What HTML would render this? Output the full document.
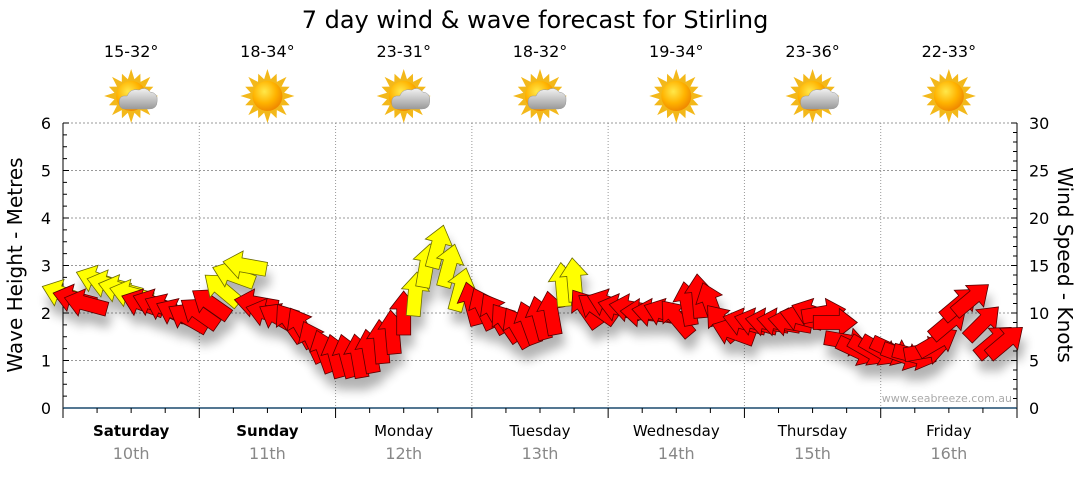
<!DOCTYPE html>
<html><head><meta charset="utf-8"><style>
body{margin:0;background:#fff;width:1080px;height:475px;overflow:hidden;font-family:"DejaVu Sans","Liberation Sans",sans-serif}
svg text{font-family:"DejaVu Sans","Liberation Sans",sans-serif}
</style></head><body>
<svg id="chart" width="1080" height="475" xmlns="http://www.w3.org/2000/svg">
<defs>
<filter id="sh" x="-50%" y="-50%" width="200%" height="200%"><feGaussianBlur in="SourceAlpha" stdDeviation="5"/><feOffset dx="3" dy="12"/><feComponentTransfer><feFuncA type="linear" slope="0.3"/></feComponentTransfer><feMerge><feMergeNode/><feMergeNode in="SourceGraphic"/></feMerge></filter>
<radialGradient id="sun" cx="40%" cy="35%" r="65%"><stop offset="0" stop-color="#ffe84a"/><stop offset="0.6" stop-color="#ffb300"/><stop offset="1" stop-color="#f08a00"/></radialGradient>
<linearGradient id="cloud" x1="0" y1="0" x2="0" y2="1"><stop offset="0" stop-color="#f2f2f2"/><stop offset="1" stop-color="#9a9a9a"/></linearGradient>
</defs>
<text x="535" y="28" font-size="24" text-anchor="middle" fill="#000">7 day wind &amp; wave forecast for Stirling</text>
<g id="grid"></g><g id="axes"></g><g id="marks" filter="url(#sh)"></g><g id="top"></g>
<text transform="translate(22,265) rotate(-90)" font-size="20" text-anchor="middle">Wave Height - Metres</text>
<text transform="translate(1058,265) rotate(90)" font-size="20" text-anchor="middle">Wind Speed - Knots</text>
<text x="1012" y="402" font-size="11" text-anchor="end" fill="#aaa">www.seabreeze.com.au</text>
</svg>
<script>
const days=["Saturday","Sunday","Monday","Tuesday","Wednesday","Thursday","Friday"];
const dates=["10th","11th","12th","13th","14th","15th","16th"];
const temps=["15-32°","18-34°","23-31°","18-32°","19-34°","23-36°","22-33°"];
const cloudy=[1,0,1,1,0,1,0];
const leftTicks=[0,1,2,3,4,5,6];
const rightTicks=[0,5,10,15,20,25,30];
// wind speed (knots), 2-hourly
const windSpeed=[12,11.5,11,13.5,13,12.5,12,11,11,10.5,10,9.5,
 10,11,12.5,14,15,11,10,9.5,9,8.5,7,6,
 5.5,5.5,5.5,6,7,8,10,12,15,17,15,12.5,
 11,10.5,10,9,8.5,9,9.5,10,13,13.5,10.5,10.5,
 11,10.5,10.5,10,10,10,9.5,11,11.8,11,9,8,
 9,9,9,9,9,9.5,10,10,9,7,6,6,
 6,6,5.5,5.5,6,7,9,11,11.5,9,7,7];
// arrow pointing direction (deg, screen clockwise from east)
const windDir=[200,195,195,200,195,195,195,200,200,205,205,210,
 215,215,220,200,190,190,195,210,235,240,245,250,
 255,255,260,260,265,265,270,275,280,285,285,285,
 255,245,240,235,240,250,255,260,265,265,235,215,
 200,195,190,185,190,200,230,260,265,250,230,200,
 195,195,190,190,190,195,200,350,0,10,25,30,
 30,25,20,15,350,330,320,320,320,315,320,320];
const NS="http://www.w3.org/2000/svg";
const X0=63,X1=1017,Y0=408,Y1=123;
const xT=h=>X0+(X1-X0)*h/168;
const yM=m=>Y0-(Y0-Y1)*m/6;
const yK=k=>Y0-(Y0-Y1)*k/30;
function mk(p,t,a){const e=document.createElementNS(NS,t);for(const k in a)e.setAttribute(k,a[k]);p.appendChild(e);return e;}
const grid=document.getElementById('grid'),axes=document.getElementById('axes'),marks=document.getElementById('marks'),top_=document.getElementById('top');
leftTicks.forEach(v=>{if(v>0){const l=mk(grid,'line',{x1:X0,x2:X1,y1:yM(v),y2:yM(v),stroke:'#999','stroke-dasharray':'2,2'});

}
const t=mk(axes,'text',{x:X0-12,y:yM(v)+6,'font-size':16,'text-anchor':'end'});t.textContent=v;


});
for(let i=0;i<=24;i++){const y=yM(i/4);mk(axes,'line',{x1:X0,x2:X0+(i%4?4:6),y1:y,y2:y,stroke:'#000'});}
rightTicks.forEach(v=>{const t=mk(axes,'text',{x:X1+12,y:yK(v)+6,'font-size':16});t.textContent=v;

});
for(let i=0;i<=30;i++){const y=yK(i);mk(axes,'line',{x1:X1,x2:X1-(i%5?4:6),y1:y,y2:y,stroke:'#000'});}
mk(axes,'line',{x1:X0,x2:X0,y1:Y1,y2:Y0,stroke:'#000'});
mk(axes,'line',{x1:X1,x2:X1,y1:Y1,y2:Y0,stroke:'#000'});
mk(axes,'line',{x1:X0,x2:X1,y1:Y0,y2:Y0,stroke:'#1c4a6e','stroke-width':1.5});
for(let h=0;h<=168;h+=6){const x=xT(h);mk(axes,'line',{x1:x,x2:x,y1:Y0,y2:Y0+(h%24?5:10),stroke:'#000'});}
days.forEach((d,i)=>{const cx=xT(i*24+12);
if(i>0){const g=mk(grid,'line',{x1:xT(i*24),x2:xT(i*24),y1:Y1,y2:Y0,stroke:'#999','stroke-dasharray':'1,2'});

}
const t=mk(axes,'text',{x:cx,y:436,'font-size':15,'text-anchor':'middle','font-weight':i<2?'bold':'normal'});t.textContent=d;


const t2=mk(axes,'text',{x:cx,y:459,'font-size':16,'text-anchor':'middle',fill:'#888'});t2.textContent=dates[i];


const t3=mk(top_,'text',{x:cx,y:57,'font-size':16,'text-anchor':'middle'});t3.textContent=temps[i];


const g=mk(top_,'g',{transform:`translate(${cx},96)`});


let pts=[];for(let k=0;k<32;k++){const a=k*Math.PI/16,r=k%2?17:(k%4?24:27);pts.push((r*Math.cos(a)).toFixed(1)+','+(r*Math.sin(a)).toFixed(1));}
mk(g,'polygon',{points:pts.join(' '),fill:'#f3b81a'});
mk(g,'circle',{r:15,fill:'url(#sun)'});
if(cloudy[i]){mk(g,'path',{d:'M-6,13 Q-12,13 -12,6 Q-12,-1 -4,0 Q-1,-8 8,-6 Q14,-10 19,-4 Q27,-3 26,5 Q26,13 18,13 Z',fill:'url(#cloud)',stroke:'#999','stroke-width':0.5});}
});
const L=44;
windSpeed.forEach((v,i)=>{const x=xT(i*2),y=yK(v);
const p=mk(marks,'path',{d:`M${L/2},0 L${L/2-18},-14 L${L/2-18},-7 L${-L/2},-7 L${-L/2},7 L${L/2-18},7 L${L/2-18},14 Z`,
fill:v>=12?'#ffff00':'#ff0000',stroke:v>=12?'#6b6b00':'#550000','stroke-width':0.8,
transform:`translate(${x.toFixed(1)},${y.toFixed(1)}) rotate(${windDir[i]})`});


});
</script>
</body></html>
